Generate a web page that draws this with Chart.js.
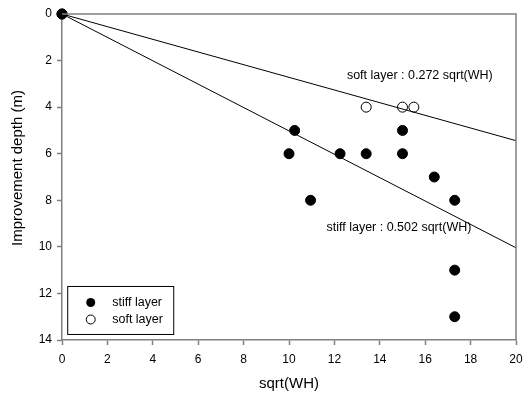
<!DOCTYPE html>
<html>
<head>
<meta charset="utf-8">
<script src="https://cdn.jsdelivr.net/npm/chart.js@4"></script>
<style>
html,body{margin:0;padding:0;background:#fff;}
#wrap{width:523px;height:394px;}
</style>
</head>
<body>
<div id="wrap"><canvas id="c" width="523" height="394"></canvas></div>
<script>
const stiffX = [0, 10.0, 10.25, 10.95, 12.25, 13.4, 15.0, 15.0, 16.4, 17.3, 17.3, 17.3];
const stiffY = [0, 6, 5, 8, 6, 6, 5, 6, 7, 8, 11, 13];
const softX = [0, 13.4, 15.0, 15.5];
const softY = [0, 4, 4, 4];
const softCoef = 0.272;
const stiffCoef = 0.502;
const lineX = [0, 20];
const xTicks = [0, 2, 4, 6, 8, 10, 12, 14, 16, 18, 20];
const yTicks = [0, 2, 4, 6, 8, 10, 12, 14];
const legendLabels = ['stiff layer', 'soft layer'];
const softLabel = 'soft layer : 0.272 sqrt(WH)';
const stiffLabel = 'stiff layer : 0.502 sqrt(WH)';
const xTitle = 'sqrt(WH)';
const yTitle = 'Improvement depth (m)';

const FONT = 'Liberation Sans, Arial, sans-serif';
const AXIS = '#808080';

const zip = (xs, ys) => xs.map((x, i) => ({x, y: ys[i]}));

const framePlugin = {
  id: 'frame',
  afterDraw(chart) {
    const {ctx, chartArea: a, scales} = chart;
    ctx.save();
    ctx.strokeStyle = AXIS;
    ctx.lineWidth = 1.5;
    ctx.beginPath();
    ctx.moveTo(a.left, a.top); ctx.lineTo(a.right, a.top); ctx.lineTo(a.right, a.bottom);
    ctx.stroke();
    // annotations
    ctx.fillStyle = '#000';
    ctx.font = '12.5px ' + FONT;
    ctx.textBaseline = 'middle';
    ctx.textAlign = 'left';
    const xs = scales.x, ys = scales.y;
    ctx.fillText(softLabel, xs.getPixelForValue(12.55), ys.getPixelForValue(2.65));
    ctx.fillText(stiffLabel, xs.getPixelForValue(11.65), ys.getPixelForValue(9.17));
    // legend
    const lx = xs.getPixelForValue(0.23), ly = ys.getPixelForValue(11.68);
    const lw = 106, lh = 48;
    ctx.strokeStyle = '#000';
    ctx.lineWidth = 1;
    ctx.strokeRect(lx + 0.5, ly + 0.5, lw, lh);
    const rows = [ly + 16.5, ly + 33.5];
    ctx.fillStyle = '#000';
    ctx.beginPath(); ctx.arc(lx + 23.5, rows[0], 4.5, 0, Math.PI * 2); ctx.fill();
    ctx.beginPath(); ctx.arc(lx + 23.5, rows[1], 4.5, 0, Math.PI * 2);
    ctx.fillStyle = '#fff'; ctx.fill(); ctx.strokeStyle = '#000'; ctx.stroke();
    ctx.fillStyle = '#000';
    ctx.fillText(legendLabels[0], lx + 45, rows[0]);
    ctx.fillText(legendLabels[1], lx + 45, rows[1]);
    // axis titles
    ctx.font = '15px ' + FONT;
    ctx.textAlign = 'center';
    ctx.fillText(xTitle, (a.left + a.right) / 2, 384);
    ctx.translate(18, 168);
    ctx.rotate(-Math.PI / 2);
    ctx.fillText(yTitle, 0, 0);
    ctx.restore();
  }
};

new Chart(document.getElementById('c'), {
  type: 'scatter',
  data: {
    datasets: [
      {label: 'soft line', type: 'line', data: lineX.map(x => ({x, y: softCoef * x})), borderColor: '#000', borderWidth: 1, pointRadius: 0, showLine: true, fill: false},
      {label: 'stiff line', type: 'line', data: lineX.map(x => ({x, y: stiffCoef * x})), borderColor: '#000', borderWidth: 1, pointRadius: 0, showLine: true, fill: false},
      {label: legendLabels[0], data: zip(stiffX, stiffY), backgroundColor: '#000', borderColor: '#000', pointRadius: 5, borderWidth: 1},
      {label: legendLabels[1], data: zip(softX, softY), backgroundColor: '#fff', borderColor: '#000', pointRadius: 5, borderWidth: 1}
    ]
  },
  options: {
    responsive: false,
    animation: false,
    clip: false,
    layout: {padding: {top: 14, right: 7, left: 0, bottom: 0}},
    plugins: {legend: {display: false}, tooltip: {enabled: false}},
    scales: {
      x: {
        type: 'linear', min: 0, max: 20,
        afterBuildTicks: s => { s.ticks = xTicks.map(v => ({value: v})); },
        afterFit: s => { s.height = 54; s.paddingLeft = 0; s.paddingRight = 0; },
        grid: {drawOnChartArea: false, drawTicks: true, tickLength: 5, tickColor: AXIS, tickWidth: 1.5},
        border: {display: true, color: AXIS, width: 1.5},
        ticks: {color: '#000', font: {family: FONT, size: 12}, padding: 7, maxRotation: 0},
        title: {display: false}
      },
      y: {
        type: 'linear', min: 0, max: 14, reverse: true,
        afterBuildTicks: s => { s.ticks = yTicks.map(v => ({value: v})); },
        afterFit: s => { s.width = 62; s.paddingTop = 0; s.paddingBottom = 0; },
        grid: {drawOnChartArea: false, drawTicks: true, tickLength: 5, tickColor: AXIS, tickWidth: 1.5},
        border: {display: true, color: AXIS, width: 1.5},
        ticks: {color: '#000', font: {family: FONT, size: 12}, padding: 5},
        title: {display: false}
      }
    }
  },
  plugins: [framePlugin]
});
</script>
</body>
</html>
